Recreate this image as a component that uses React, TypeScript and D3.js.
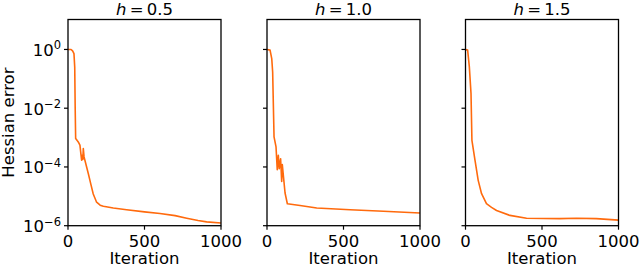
import React from 'react';
import * as d3 from 'd3';

// panel titles (h values)
const hValues = ['0.5', '1.0', '1.5'];

// iteration / Hessian error
const iter1 = [0, 20, 30, 39, 44, 47, 50, 60, 67, 78, 83, 89, 93, 97, 100, 105, 113, 133, 150, 165, 187, 210, 231, 296, 383, 500, 601, 700, 776, 850, 906, 1000];
const err1 = [1.0, 1.0, 0.89, 0.72, 0.25, 1e-2, 9.3e-4, 7.9e-4, 7.1e-4, 5.5e-4, 3.2e-4, 1.7e-4, 2.5e-4, 1.8e-4, 4.2e-4, 2.2e-4, 1.5e-4, 5.9e-5, 2.5e-5, 1.2e-5, 6.3e-6, 5.0e-6, 4.6e-6, 4.0e-6, 3.5e-6, 2.95e-6, 2.6e-6, 2.2e-6, 1.8e-6, 1.5e-6, 1.35e-6, 1.23e-6];

const iter2 = [0, 20, 31, 37, 42, 46, 59, 67, 74, 80, 89, 96, 100, 118, 133, 216, 325, 543, 761, 1000];
const err2 = [1.0, 0.95, 0.49, 0.17, 1e-2, 1.05e-3, 4.8e-4, 8e-5, 2.5e-4, 8.7e-5, 1.9e-4, 3.2e-5, 1.2e-4, 1.3e-5, 5.6e-6, 4.9e-6, 4.0e-6, 3.5e-6, 3.1e-6, 2.7e-6];

const iter3 = [0, 14, 25, 36, 42, 62, 83, 105, 137, 170, 203, 290, 399, 616, 725, 855, 1000];
const err3 = [1.0, 0.95, 0.26, 3.2e-2, 8.1e-4, 1.7e-4, 3.5e-5, 1.23e-5, 5.6e-6, 4.2e-6, 3.3e-6, 2.24e-6, 1.8e-6, 1.74e-6, 1.8e-6, 1.74e-6, 1.55e-6];

const iterations = [iter1, iter2, iter3];
const errors = [err1, err2, err3];

const xTicks = [0, 500, 1000];
const yExponents = [0, -2, -4, -6];

const panelLeft = [68, 267, 465.5];
const panelW = 153;
const top = 19.5;
const bottom = 225.7;
const font = 'DejaVu Sans, sans-serif';
const fs = 16.5;
const color = '#ff6a0d';

const y = d3.scaleLog().domain([1e-6, Math.pow(10, 1.02)]).range([bottom, top]);

const Panel = ({i}: {i: number}) => {
    const left = panelLeft[i];
    const x = d3.scaleLinear().domain([0, 1000]).range([left, left + panelW]);
    const pts = iterations[i].map((t, k) => [t, errors[i][k]] as [number, number]);
    const line = d3.line<[number, number]>()
        .x(d => x(d[0]))
        .y(d => y(d[1]));
    const cx = left + panelW / 2;

    return (
        <g>
            <defs>
                <clipPath id={`clip${i}`}>
                    <rect x={left} y={top} width={panelW} height={bottom - top}/>
                </clipPath>
            </defs>
            <path d={line(pts) || ''} fill="none" stroke={color} strokeWidth={1.6}
                  strokeLinejoin="round" clipPath={`url(#clip${i})`}/>
            <rect x={left} y={top} width={panelW} height={bottom - top}
                  fill="none" stroke="#000" strokeWidth={1.3}/>
            {xTicks.map(t => (
                <g key={t}>
                    <line x1={x(t)} x2={x(t)} y1={bottom} y2={bottom + 4} stroke="#000" strokeWidth={1.2}/>
                    <text x={x(t)} y={246.7} textAnchor="middle" fontFamily={font} fontSize={fs}>{t}</text>
                </g>
            ))}
            {yExponents.map(e => (
                <g key={e}>
                    <line x1={left - 4} x2={left} y1={y(Math.pow(10, e))} y2={y(Math.pow(10, e))}
                          stroke="#000" strokeWidth={1.2}/>
                    {i === 0 && (
                        <text x={61} y={y(Math.pow(10, e)) + 6.5} textAnchor="end" fontFamily={font} fontSize={fs}>
                            10
                            <tspan dy={-6.5} fontSize={11.5}>{e === 0 ? '0' : '\u2212' + Math.abs(e)}</tspan>
                        </text>
                    )}
                </g>
            ))}
            <text x={cx} y={15} textAnchor="middle" fontFamily={font} fontSize={fs}>
                <tspan fontStyle="italic">h</tspan>
                {'\u2009=\u2009' + hValues[i]}
            </text>
            <text x={cx} y={264} textAnchor="middle" fontFamily={font} fontSize={fs}>Iteration</text>
        </g>
    );
};

export default function App() {
    return (
        <svg width={640} height={268} style={{position: 'absolute', left: 0, top: 0, background: '#fff'}}>
            <rect width={640} height={268} fill="#fff"/>
            {[0, 1, 2].map(i => <Panel key={i} i={i}/>)}
            <text transform={`translate(14,${(top + bottom) / 2}) rotate(-90)`} textAnchor="middle"
                  fontFamily={font} fontSize={fs}>Hessian error</text>
        </svg>
    );
}
